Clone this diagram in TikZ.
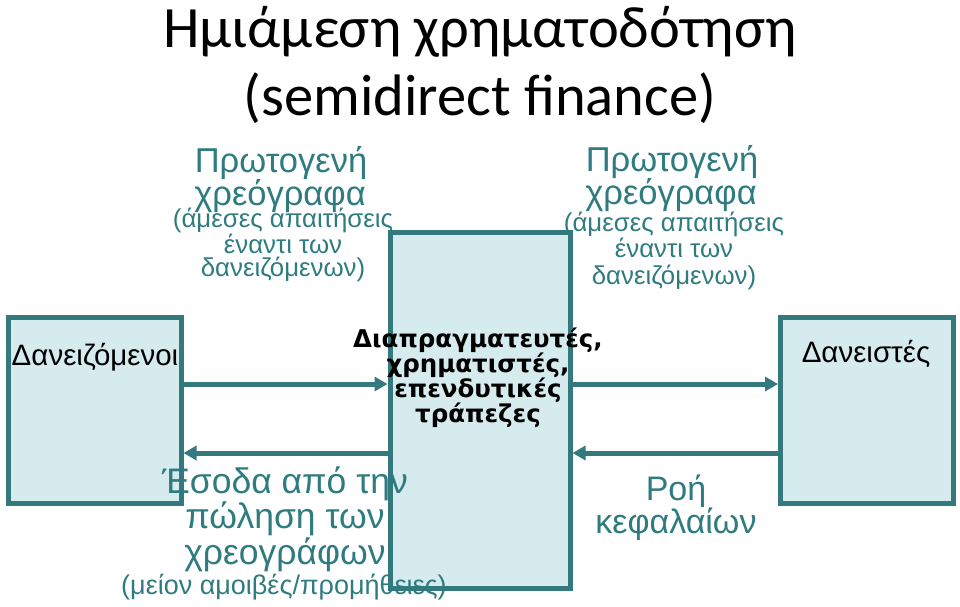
\documentclass[tikz,border=0pt]{standalone}
\usepackage{fontspec}
\setmainfont{Liberation Sans}
\newfontfamily\titlefont{Carlito}
\newfontfamily\boldfont{DejaVu Sans}
\usetikzlibrary{arrows.meta}
\definecolor{tealline}{HTML}{33797D}
\definecolor{tealtext}{HTML}{2E7B80}
\definecolor{boxfill}{HTML}{D5EBEE}
\tikzset{
  party/.style={draw=tealline, line width=5pt, fill=boxfill, inner sep=0pt},
  flow/.style={draw=tealline, line width=5pt, -{Triangle[length=13pt,width=14pt]}},
  lbl/.style={inner sep=0pt, anchor=base, text=tealtext},
  big/.style={lbl, font=\fontsize{34.5}{36}\selectfont},
  blab/.style={inner sep=0pt, anchor=base, text=black, font=\fontsize{29.5}{34}\selectfont},
}
\begin{document}
\begin{tikzpicture}[x=1pt,y=-1pt]
\useasboundingbox (0,0) rectangle (960,606);
% boxes
\node[party, minimum width=172.5pt, minimum height=186pt] (left) at (94.75,410) {};
\node[party, minimum width=180pt, minimum height=356pt] (mid) at (480,410) {};
\node[party, minimum width=173pt, minimum height=186pt] (right) at (867,410.5) {};
% arrows
\draw[flow] (left.east |- 0,384) -- (mid.west |- 0,384);
\draw[flow] (mid.west |- 0,453) -- (left.east |- 0,453);
\draw[flow] (mid.east |- 0,384) -- (right.west |- 0,384);
\draw[flow] (right.west |- 0,453) -- (mid.east |- 0,453);
% title
\node[inner sep=0pt, anchor=base, font=\titlefont\fontsize{58.5}{66}\selectfont] (t1) at (480,47) {Ημιάμεση χρηματοδότηση};
\node[inner sep=0pt, anchor=base, font=\titlefont\fontsize{58.5}{66}\selectfont] (t2) at (480,115) {(semidirect finance)};
% box labels
\node[blab] (lname) at (95,365) {Δανειζόμενοι};
\node[blab] (rname) at (866,362) {Δανειστές};
\node[inner sep=0pt, anchor=base, align=center, font=\boldfont\bfseries\fontsize{24.5}{25}\selectfont] (mname) at (478,422)
  {Διαπραγματευτές,\\χρηματιστές,\\επενδυτικές\\τράπεζες};
% teal labels
\node[big] (lp1) at (281,172) {Πρωτογενή};
\node[big] (lp2) at (280,205) {χρεόγραφα};
\node[lbl, align=center, font=\fontsize{25.8}{23}\selectfont] (lp3) at (283,276) {(άμεσες απαιτήσεις\\έναντι των\\δανειζόμενων)};
\node[big] (rp1) at (672,171) {Πρωτογενή};
\node[big] (rp2) at (671,204) {χρεόγραφα};
\node[lbl, align=center, font=\fontsize{25.8}{26.5}\selectfont] (rp3) at (674,284) {(άμεσες απαιτήσεις\\έναντι των\\δανειζόμενων)};
\node[lbl, align=center, font=\fontsize{35.5}{32.5}\selectfont] (proceeds) at (285,564) {Έσοδα από την\\πώληση των\\χρεογράφων};
\node[lbl, font=\fontsize{27}{30}\selectfont] (fees) at (284,594) {(μείον αμοιβές/προμήθειες)};
\node[lbl, align=center, font=\fontsize{34}{33}\selectfont] (funds) at (676,533) {Ροή\\κεφαλαίων};
\end{tikzpicture}
\end{document}
